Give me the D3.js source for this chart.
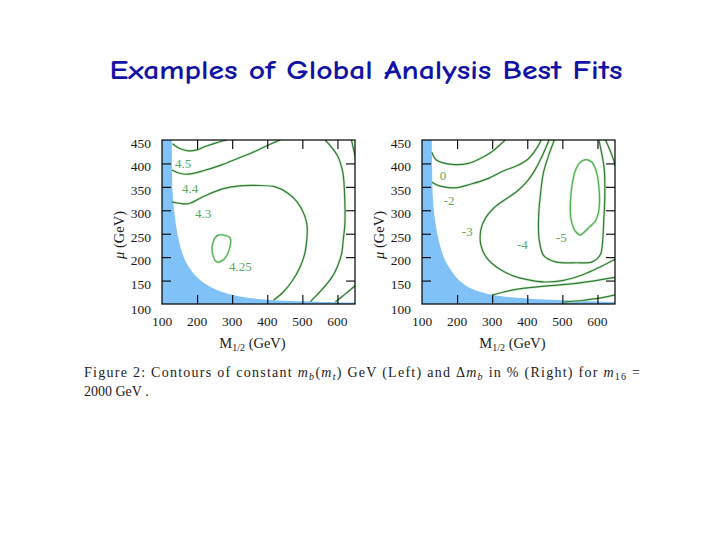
<!DOCTYPE html>
<html><head><meta charset="utf-8">
<script src="https://cdn.jsdelivr.net/npm/d3@7"></script>
<style>body{margin:0;background:#fff}svg{display:block}</style>
</head><body>
<svg id="c" width="720" height="540"></svg>
<script>
// ---------- data ----------
const titleText = "Examples of Global Analysis Best Fits";
const xTicks = [100, 200, 300, 400, 500, 600];
const yTicks = [100, 150, 200, 250, 300, 350, 400, 450];
const xDomain = [100, 650];
const yDomain = [100, 450];

// excluded (blue) region boundary, (M1/2, mu)
const leftBlue = [[128,450],[130,343],[136,290],[148,235],[162,200],[180,175],[200,157],[237,137],[303,119],[399,109],[542,105],[650,103]];
const rightBlue = [[128,450],[131,329],[136,285],[148,235],[162,200],[180,175],[200,155],[237,134],[303,119],[399,112],[542,107],[650,104]];

// left panel contours (m_b(m_t))
const left45 = [[130,442],[150,432],[175,427],[200,429],[223,436],[255,444],[285,450]];
const left44 = [[128,386],[150,379],[175,377],[220,385],[270,397],[320,412],[366,426],[405,440],[437,450]];
const left43 = [[128,318],[150,315],[175,314],[220,330],[270,345],[320,352],[366,353],[423,350],[460,336],[485,318],[503,295],[513,270],[513,240],[507,208],[493,178],[470,148],[445,125],[418,108]];
const left425 = [[275,247],[294,241],[291,215],[276,195],[256,190],[244,208],[246,233],[260,247]];
const leftOuter = [[565,450],[599,418],[615,382],[621,318],[621,269],[617,240],[612,208],[600,180],[585,158],[555,130],[523,105]];
const leftCornerTop = [[640,450],[646,430],[652,410]];
const leftCornerBot = [[594,104],[620,120],[652,140]];

// right panel contours (Delta m_b in %)
const right0 = [[128,424],[140,408],[185,398],[232,400],[270,412],[299,425],[337,450]];
const right2 = [[128,360],[150,352],[194,348],[240,356],[289,368],[332,384],[370,395],[400,408],[422,427],[440,450]];
const right3 = [[462,450],[445,420],[425,390],[400,362],[370,340],[335,322],[305,305],[282,285],[268,260],[268,225],[285,198],[320,175],[360,160],[400,152],[450,147],[500,150],[560,163],[610,180],[652,196]];
const right4 = [[477,450],[460,415],[446,380],[437,330],[432,280],[434,237],[447,203],[480,190],[540,188],[585,190],[608,205],[615,237],[618,279],[621,330],[619,390],[604,450]];
const right5 = [[566,408],[548,400],[535,380],[527,350],[523,318],[524,285],[531,264],[541,252],[551,247],[562,253],[578,265],[593,276],[602,292],[606,318],[604,350],[598,380],[585,402]];
const rightLow1 = [[300,119],[360,130],[450,138],[550,145],[652,157]];
const rightLow2 = [[505,104],[560,108],[610,113],[652,120]];
const rightCornerTop = [[623,450],[640,420],[652,393]];

// contour labels: [text, M1/2, mu]
const leftLabels = [["4.5",160,399],["4.4",180,347],["4.3",217,294],["4.25",323,179]];
const rightLabels = [["0",160,375],["-2",177,320],["-3",229,254],["-4",386,226],["-5",497,241]];

// ---------- drawing ----------
const svg = d3.select("#c");
svg.append("rect").attr("width",720).attr("height",540).attr("fill","#fff");

svg.append("text").text(titleText)
  .attr("x",366).attr("y",79).attr("text-anchor","middle")
  .attr("font-family","'Comic Sans MS','Comic Neue','DejaVu Sans',sans-serif")
  .attr("font-weight","bold").attr("font-size",27)
  .attr("textLength",513).attr("lengthAdjust","spacingAndGlyphs")
  .attr("fill","#1212a6");

const DARK = "#2f7a34", LIGHT = "#4fb04f", LABEL = "#5aa85a";
const font = "'Liberation Serif','DejaVu Serif',serif";

function panel(id, px0, px1, blue, curves, labels) {
  const x = d3.scaleLinear().domain(xDomain).range([px0, px1]);
  const y = d3.scaleLinear().domain(yDomain).range([304, 140]);
  const g = svg.append("g");
  const clipId = "clip" + id;
  svg.append("defs").append("clipPath").attr("id", clipId)
    .append("rect").attr("x",px0).attr("y",140).attr("width",px1-px0).attr("height",164);
  const inner = g.append("g").attr("clip-path","url(#"+clipId+")");

  // blue excluded region
  const edge = d3.line().x(d=>x(d[0])).y(d=>y(d[1])).curve(d3.curveCatmullRom.alpha(0.5));
  inner.append("path").attr("d", edge(blue) + "L" + x(xDomain[1]) + "," + y(yDomain[0]) + "L" + x(xDomain[0]) + "," + y(yDomain[0]) + "L" + x(xDomain[0]) + "," + y(yDomain[1]) + "Z")
    .attr("fill","#80c2f7");

  curves.forEach(c => {
    const ln = d3.line().x(d=>x(d[0])).y(d=>y(d[1]))
      .curve(c.closed ? d3.curveCatmullRomClosed.alpha(0.5) : d3.curveCatmullRom.alpha(0.5));
    inner.append("path").attr("d", ln(c.pts)).attr("fill","none")
      .attr("stroke","#b8e0b0").attr("stroke-width",2.6).attr("opacity",0.6);
    inner.append("path").attr("d", ln(c.pts)).attr("fill","none")
      .attr("stroke", c.color).attr("stroke-width",1.2);
  });

  labels.forEach(l => {
    g.append("text").text(l[0]).attr("x",x(l[1])).attr("y",y(l[2])+4.5)
      .attr("text-anchor","middle").attr("font-family",font)
      .attr("font-size",13).attr("fill",LABEL);
  });

  // frame
  g.append("rect").attr("x",px0).attr("y",140).attr("width",px1-px0).attr("height",164)
    .attr("fill","none").attr("stroke","#000").attr("stroke-width",1.2);

  // axes with inward ticks
  const tl = 9;
  const innerX = xTicks.filter(t => t > xDomain[0] && t < xDomain[1]);
  const innerY = yTicks.filter(t => t > yDomain[0] && t < yDomain[1]);
  g.append("g").attr("transform","translate(0,304)")
    .call(d3.axisBottom(x).tickValues(innerX).tickSize(-tl).tickFormat(""))
    .call(a=>a.select(".domain").remove());
  g.append("g").attr("transform","translate(0,140)")
    .call(d3.axisTop(x).tickValues(innerX).tickSize(-tl).tickFormat(""))
    .call(a=>a.select(".domain").remove());
  g.append("g").attr("transform","translate("+px0+",0)")
    .call(d3.axisLeft(y).tickValues(innerY).tickSize(-tl).tickFormat(""))
    .call(a=>a.select(".domain").remove());
  g.append("g").attr("transform","translate("+px1+",0)")
    .call(d3.axisRight(y).tickValues(innerY).tickSize(-tl).tickFormat(""))
    .call(a=>a.select(".domain").remove());
  g.selectAll(".tick line").attr("stroke","#000").attr("stroke-width",1.1);

  // tick labels
  xTicks.forEach(t => g.append("text").text(t).attr("x",x(t)).attr("y",325.5)
    .attr("text-anchor","middle").attr("font-family",font).attr("font-size",13.5).attr("fill","#1a1a1a"));
  yTicks.forEach(t => g.append("text").text(t).attr("x",px0-11).attr("y",y(t)+ (t===100?10:8))
    .attr("text-anchor","end").attr("font-family",font).attr("font-size",13.5).attr("fill","#1a1a1a"));

  // axis titles
  const xl = g.append("text").attr("x",(px0+px1)/2 - 6).attr("y",348).attr("text-anchor","middle")
    .attr("font-family",font).attr("font-size",14.5).attr("fill","#1a1a1a");
  xl.append("tspan").text("M");
  xl.append("tspan").text("1/2").attr("font-size",10).attr("dy",3);
  xl.append("tspan").text(" (GeV)").attr("dy",-3);
  const yl = g.append("text").attr("transform","translate("+(px0-38)+",235) rotate(-90)")
    .attr("text-anchor","middle").attr("font-family",font).attr("font-size",14.5).attr("fill","#1a1a1a");
  yl.append("tspan").text("μ").attr("font-style","italic");
  yl.append("tspan").text(" (GeV)");
}

panel("L", 162, 355, leftBlue, [
  {pts:left45, color:DARK}, {pts:left44, color:DARK}, {pts:left43, color:DARK},
  {pts:left425, color:LIGHT, closed:true}, {pts:leftOuter, color:DARK},
  {pts:leftCornerTop, color:DARK}, {pts:leftCornerBot, color:DARK}
], leftLabels);

panel("R", 422, 615, rightBlue, [
  {pts:right0, color:DARK}, {pts:right2, color:DARK}, {pts:right3, color:DARK},
  {pts:right4, color:DARK}, {pts:right5, color:LIGHT, closed:true},
  {pts:rightLow1, color:DARK}, {pts:rightLow2, color:DARK}, {pts:rightCornerTop, color:DARK}
], rightLabels);

// caption
const cap = svg.append("text").attr("x",84).attr("y",377).attr("font-family",font).attr("font-size",14)
  .attr("fill","#222").attr("textLength",556).attr("lengthAdjust","spacing");
cap.append("tspan").text("Figure 2:  Contours of constant ");
cap.append("tspan").text("m").attr("font-style","italic");
cap.append("tspan").text("b").attr("font-style","italic").attr("font-size",10).attr("dy",3);
cap.append("tspan").text("(").attr("dy",-3);
cap.append("tspan").text("m").attr("font-style","italic");
cap.append("tspan").text("t").attr("font-style","italic").attr("font-size",10).attr("dy",3);
cap.append("tspan").text(") GeV  (Left) and Δ").attr("dy",-3);
cap.append("tspan").text("m").attr("font-style","italic");
cap.append("tspan").text("b").attr("font-style","italic").attr("font-size",10).attr("dy",3);
cap.append("tspan").text(" in % (Right) for ").attr("dy",-3);
cap.append("tspan").text("m").attr("font-style","italic");
cap.append("tspan").text("16").attr("font-size",10).attr("dy",3);
cap.append("tspan").text(" =").attr("dy",-3);
svg.append("text").attr("x",84).attr("y",396).attr("font-family",font).attr("font-size",14)
  .attr("fill","#222").text("2000 GeV .");
</script>
</body></html>
